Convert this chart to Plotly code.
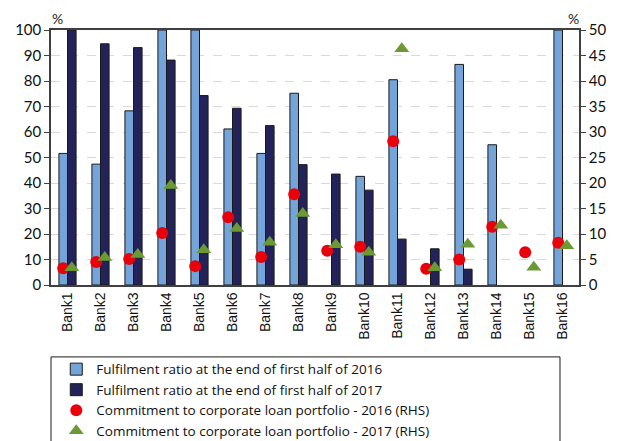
import plotly.graph_objects as go

banks = [f'Bank{i}' for i in range(1, 17)]

# fulfilment ratio (LHS, %)
ratio_2016 = [51.6, 47.4, 68.3, 100, 100, 61.2, 51.6, 75.2, None, 42.6,
              80.5, None, 86.5, 55.0, None, 100]
ratio_2017 = [100, 94.6, 93.1, 88.2, 74.3, 69.3, 62.5, 47.2, 43.5, 37.2,
              18.0, 14.2, 6.2, None, None, None]

# commitment to corporate loan portfolio (RHS, %)
commit_2016 = [3.3, 4.5, 5.1, 10.2, 3.7, 13.3, 5.5, 17.8, 6.7, 7.5,
               28.2, 3.2, 5.0, 11.4, 6.4, 8.3]
commit_2017 = [3.4, 5.4, 6.0, 19.5, 6.9, 11.1, 8.4, 14.0, 7.9, 6.4,
               46.3, 3.4, 8.0, 11.7, 3.5, 7.7]

COLOR_LIGHT = '#74a4da'
COLOR_DARK = '#23235a'
COLOR_RED = '#e8000b'
COLOR_GREEN = '#6b9a34'
COLOR_AXIS = '#404040'
FONT_NUM = 'Lato'
FONT_CAT = 'Liberation Sans'
FONT_LEG = 'Open Sans'

fig = go.Figure()

fig.add_trace(go.Bar(
    x=banks, y=ratio_2016, name='Fulfilment ratio at the end of first half of 2016',
    marker=dict(color=COLOR_LIGHT, line=dict(color='#1a1a1a', width=1)),
))
fig.add_trace(go.Bar(
    x=banks, y=ratio_2017, name='Fulfilment ratio at the end of first half of 2017',
    marker=dict(color=COLOR_DARK, line=dict(color='#1a1a1a', width=1)),
))
fig.add_trace(go.Scatter(
    x=banks, y=commit_2016, yaxis='y2', mode='markers',
    name='Commitment to corporate loan portfolio - 2016 (RHS)',
    marker=dict(color=COLOR_RED, symbol='circle', size=12),
))
fig.add_trace(go.Scatter(
    x=banks, y=commit_2017, yaxis='y2', mode='markers',
    name='Commitment to corporate loan portfolio - 2017 (RHS)',
    marker=dict(color=COLOR_GREEN, symbol='triangle-up', size=13),
))

# legend frame (wider than the legend itself, as in the original)
fig.add_shape(type='rect', xref='paper', yref='paper',
              x0=0, x1=0.964, y0=-0.75, y1=-0.282,
              line=dict(color='#1a1a1a', width=1))

# unit labels above both axes
for xpos in (0.013, 0.989):
    fig.add_annotation(text='%', xref='paper', yref='paper', x=xpos, y=1.045,
                       xanchor='center', yanchor='middle', showarrow=False,
                       font=dict(family=FONT_NUM, size=14, color='#222'))

# page body has an 8px margin, so the figure is 8px smaller than the window
fig.update_layout(
    width=609, height=433,
    margin=dict(l=43, r=38, t=22, b=156, autoexpand=False),
    paper_bgcolor='white', plot_bgcolor='white',
    barmode='group', bargap=0.48, bargroupgap=0,
    scattermode='group', scattergap=0.48,
    showlegend=True,
    legend=dict(
        x=0.01, y=-0.27, xanchor='left', yanchor='top',
        font=dict(family=FONT_LEG, size=13.5, color='#111'),
        bgcolor='rgba(0,0,0,0)', tracegroupgap=0,
        itemwidth=30,
    ),
    xaxis=dict(
        type='category', tickangle=-90, automargin=False,
        tickfont=dict(family=FONT_CAT, size=14, color='#111'),
        showline=True, linecolor=COLOR_AXIS, linewidth=1.5, mirror=True,
        ticks='', showgrid=False,
    ),
    yaxis=dict(
        range=[0, 100], dtick=10, automargin=False,
        tickfont=dict(family=FONT_NUM, size=15, color='#111'),
        showline=True, linecolor=COLOR_AXIS, linewidth=1.5,
        ticks='outside', ticklen=5, tickcolor=COLOR_AXIS,
        showgrid=True, gridcolor='#d9d9d9', griddash='dash', gridwidth=1,
        zeroline=False,
    ),
    yaxis2=dict(
        range=[0, 50], dtick=5, overlaying='y', side='right', automargin=False,
        tickfont=dict(family=FONT_NUM, size=15, color='#111'),
        showline=True, linecolor=COLOR_AXIS, linewidth=1.5,
        ticks='outside', ticklen=5, tickcolor=COLOR_AXIS,
        showgrid=False, zeroline=False,
    ),
)

fig.write_html('out.html')
